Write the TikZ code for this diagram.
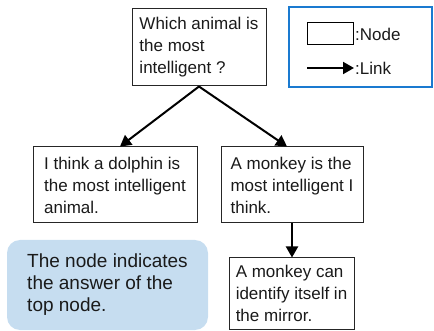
\documentclass[tikz,border=0pt]{standalone}
\usepackage{fontspec}
\setmainfont{Liberation Sans}
\usetikzlibrary{arrows.meta}
\definecolor{legblue}{HTML}{1A7AD0}
\definecolor{notefill}{HTML}{C6DDF0}
\definecolor{txt}{HTML}{1A1A1A}
\tikzset{
  box/.style={draw=black!85, line width=1pt, fill=white, align=left, inner xsep=0pt, inner ysep=0pt,
    text=txt, font=\fontsize{17}{22}\selectfont},
  link/.style={line width=2pt, -{Triangle[length=11pt,width=12pt]}},
  note/.style={fill=notefill, rounded corners=13pt, align=left, inner xsep=0pt, inner ysep=0pt,
    text=txt, font=\fontsize{19}{22}\selectfont},
  legtext/.style={anchor=west, inner sep=0pt, text=txt, font=\fontsize{17}{20}\selectfont}
}
\begin{document}
\begin{tikzpicture}[x=1pt,y=-1pt]
\useasboundingbox (0,0) rectangle (434,331);
% legend frame
\node[draw=legblue, line width=2pt, minimum width=143pt, minimum height=80pt, inner sep=0pt] (legend) at (360.5,47) {};
\node[draw=black, line width=1pt, minimum width=46pt, minimum height=22pt, inner sep=0pt] (legnode) at (330,34) {};
\node[legtext] (legnodetxt) at (355,34) {:Node};
\coordinate (legA) at (307,68);
\coordinate (legB) at (354,68);
\draw[link] (legA) -- (legB);
\node[legtext] (leglinktxt) at (355,68) {:Link};
% nodes
\node[box, minimum width=134pt, minimum height=77pt] (top) at (199,47.5) {Which animal is\\the most\\intelligent ?};
\node[box, minimum width=164pt, minimum height=76pt] (left) at (115,185) {I think a dolphin is\\the most intelligent\\animal.};
\node[box, minimum width=142pt, minimum height=76pt] (right) at (292,185) {A monkey is the\\most intelligent I\\think.};
\node[box, minimum width=125pt, minimum height=71pt] (bottom) at (291.5,293.5) {A monkey can\\identify itself in\\the mirror.};
\node[note, minimum width=201pt, minimum height=90pt] (note) at (107.5,285) {The node indicates\\the answer of the\\top node.};
% links
\draw[link] (top.south) -- ([xshift=5pt]left.north);
\draw[link] (top.south) -- ([xshift=-5pt]right.north);
\draw[link] (right.south) -- (bottom.north -| right.south);
\end{tikzpicture}
\end{document}
